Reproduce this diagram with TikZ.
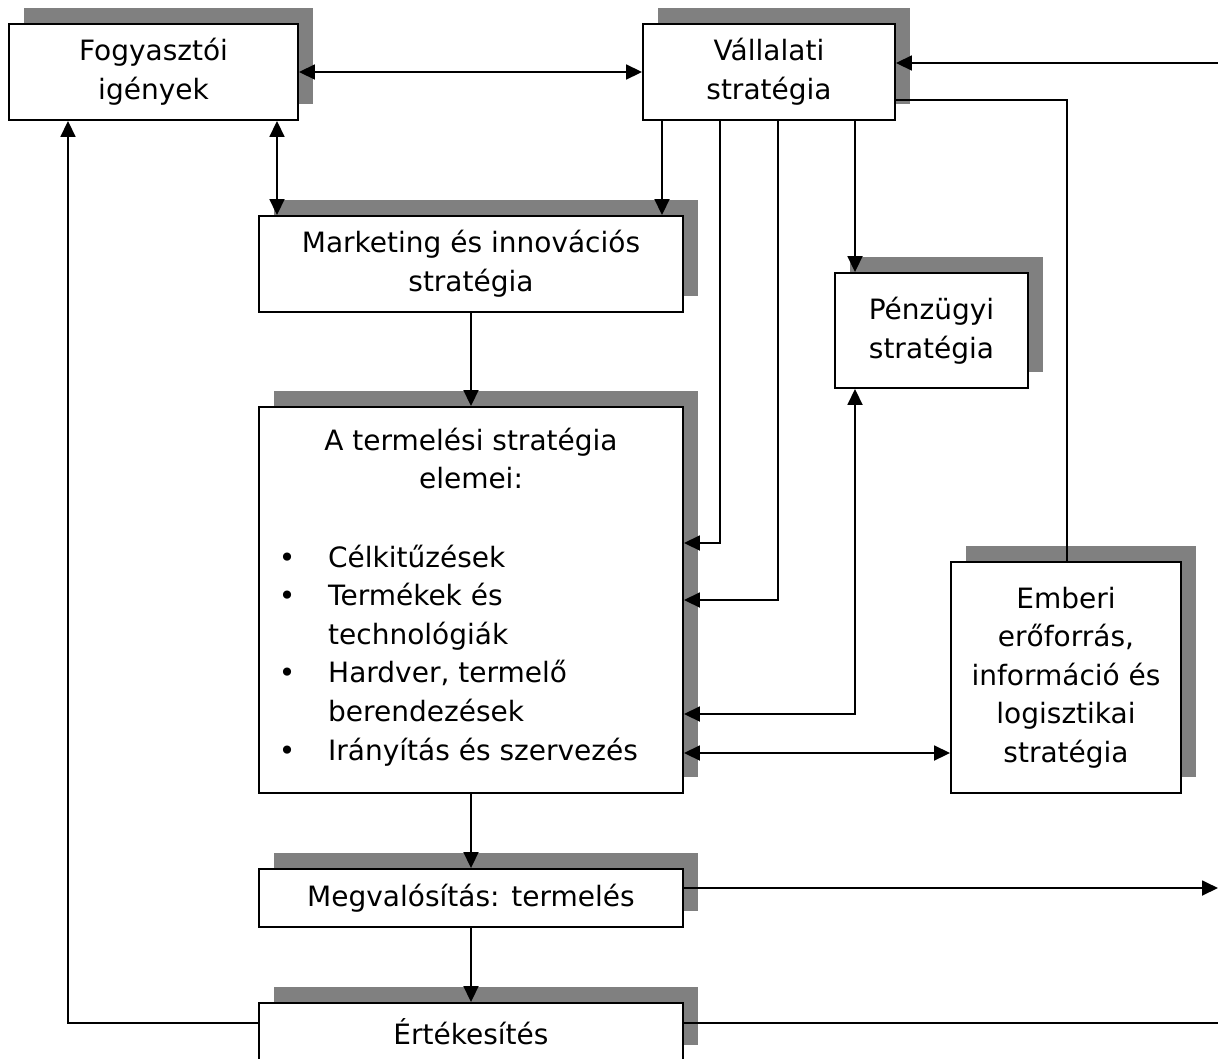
\documentclass[tikz,border=0pt]{standalone}
\usepackage{fontspec}
\setmainfont{DejaVu Sans}
\usetikzlibrary{shadows,arrows.meta}
\definecolor{shgray}{HTML}{808080}
\begin{document}
\begin{tikzpicture}[x=1pt,y=-1pt,
  font=\fontsize{28pt}{38.6pt}\selectfont,
  box/.style={draw=black, line width=1.9pt, fill=white, inner sep=0pt,
    align=center,
    general shadow={fill=shgray, shadow xshift=15pt, shadow yshift=16pt}},
  link/.style={line width=1.8pt, draw=black},
  arr/.style={link, -{Triangle[length=16pt,width=15pt]}},
  arrboth/.style={link, {Triangle[length=16pt,width=15pt]}-{Triangle[length=16pt,width=15pt]}}
]
\useasboundingbox (0,0) rectangle (1218,1058);

% boxes
\node[box, minimum width=289pt, minimum height=96pt] (A) at (153.5,72)
  {Fogyasztói\\igények};
\node[box, minimum width=252pt, minimum height=96pt] (B) at (769,72)
  {Vállalati\\stratégia};
\node[box, minimum width=424pt, minimum height=96pt] (C) at (471,264)
  {Marketing és innovációs\\stratégia};
\node[box, minimum width=193pt, minimum height=115pt] (D) at (931.5,330.5)
  {Pénzügyi\\stratégia};
\node[box, minimum width=424pt, minimum height=386pt] (E) at (471,600) {};
\node[box, minimum width=230pt, minimum height=231pt] (F) at (1066,677.5)
  {Emberi\\erőforrás,\\információ és\\logisztikai\\stratégia};
\node[box, minimum width=424pt, minimum height=58pt] (G) at (471,898)
  {Megvalósítás: termelés};
\node[box, minimum width=424pt, minimum height=58pt] (H) at (471,1032)
  {Értékesítés};

% contents of the production strategy box
\setlength{\tabcolsep}{0pt}
\node[anchor=base, inner sep=0pt] (Ehead) at (471,450)
  {\begin{tabular}[t]{c}A termelési stratégia\\elemei:\end{tabular}};
\node[anchor=base west, inner sep=0pt] (Elist) at (272,567)
  {\begin{tabular}[t]{@{}l@{\hspace{26pt}}l@{}}
   \makebox[30pt]{•} & Célkitűzések\\
   \makebox[30pt]{•} & Termékek és\\
                     & technológiák\\
   \makebox[30pt]{•} & Hardver, termelő\\
                     & berendezések\\
   \makebox[30pt]{•} & Irányítás és szervezés
   \end{tabular}};

% helper coordinates
\coordinate (inR)  at (1218,63);
\coordinate (outG) at (1218,888);
\coordinate (outH) at (1218,1023);
\coordinate (back) at (68,1023);

% connectors
\draw[arrboth] (A.east) -- (B.west);
\draw[arrboth] (277,0 |- A.south) -- (277,0 |- C.north);
\draw[arr] (662,0 |- B.south) -- (662,0 |- C.north);
\draw[arr] (720,0 |- B.south) |- (E.east |- 0,543);
\draw[arr] (778,0 |- B.south) |- (E.east |- 0,600);
\draw[arr] (855,0 |- B.south) -- (855,0 |- D.north);
\draw[arrboth] (855,0 |- D.south) |- (E.east |- 0,714);
\draw[arrboth] (E.east |- 0,753) -- (F.west |- 0,753);
\draw[link] (B.east |- 0,100) -| (1067,0 |- F.north);
\draw[arr] (inR) -- (inR -| B.east);
\draw[arr] (C.south) -- (E.north);
\draw[arr] (E.south) -- (G.north);
\draw[arr] (G.south) -- (H.north);
\draw[arr] (outG -| G.east) -- (outG);
\draw[link] (outH -| H.east) -- (outH);
\draw[arr] (back -| H.west) -- (back) -- (back |- A.south);
\end{tikzpicture}
\end{document}
